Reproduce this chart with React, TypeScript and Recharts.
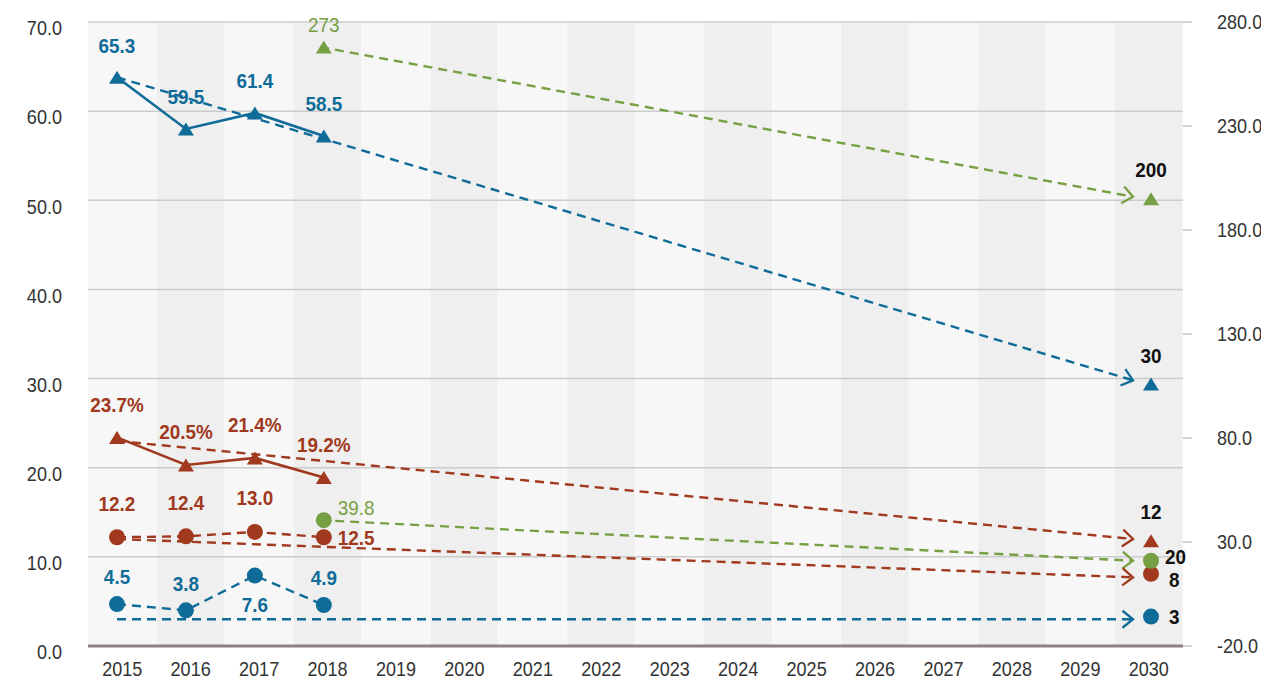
import React from 'react';
import { ComposedChart, Bar, Cell, Line, XAxis, YAxis, ReferenceLine } from 'recharts';

const years = [2015, 2016, 2017, 2018, 2019, 2020, 2021, 2022, 2023, 2024, 2025, 2026, 2027, 2028, 2029, 2030];
const histYears = [2015, 2016, 2017, 2018];
const greenYear = 2018;
const targetYear = 2030;
const leftTicks = [0, 10, 20, 30, 40, 50, 60, 70];
const rightTicks = [-20, 30, 80, 130, 180, 230, 280];

// left axis, 2015-2018
const blueTriangle = [63.8, 58.0, 59.8, 57.2];
const blueTriangleText = ['65.3', '59.5', '61.4', '58.5'];
const redTriangle = [23.4, 20.3, 21.1, 18.9];
const redTriangleText = ['23.7%', '20.5%', '21.4%', '19.2%'];
const redCircle = [12.2, 12.3, 12.8, 12.2];
const redCircleText = ['12.2', '12.4', '13.0', '12.5'];
const blueCircle = [4.7, 4.0, 7.9, 4.6];
const blueCircleText = ['4.5', '3.8', '7.6', '4.9'];

// right axis, 2018 only
const greenTriangle = [268];
const greenTriangleText = ['273'];
const greenCircle = [40.5];
const greenCircleText = ['39.8'];

// trend lines: [start, 2030]
const blueTriangleTrend = [63.8, 29.8];
const redTriangleTrend = [23.0, 12.0];
const redCircleTrend = [12.0, 7.7];
const blueCircleTrend = [3.0, 3.0];
const greenTriangleTrend = [268, 196];
const greenCircleTrend = [40.5, 21];

// 2030 targets
const targetKeys = ['bt', 'rt', 'rc', 'bc', 'gt', 'gc'];
const targetValues = [29.4, 11.8, 8.1, 3.3, 195, 21];
const targetText = ['30', '12', '8', '3', '200', '20'];

const FONT = "'Liberation Sans', Arial, sans-serif";
const BLUE = '#0f6b98';
const RED = '#a0391d';
const GREEN = '#77a044';
const INK = '#333333';

const pick = (arr: any[], from: number[], y: number) => {
  const i = from.indexOf(y);
  return i >= 0 ? arr[i] : null;
};
const ends = (pair: number[], start: number, y: number) => (y === start ? pair[0] : y === targetYear ? pair[1] : null);

const rows = years.map((year) => {
  const row: any = {
    year,
    band: 70,
    bt: pick(blueTriangle, histYears, year),
    btL: pick(blueTriangleText, histYears, year),
    rt: pick(redTriangle, histYears, year),
    rtL: pick(redTriangleText, histYears, year),
    rc: pick(redCircle, histYears, year),
    rcL: pick(redCircleText, histYears, year),
    bc: pick(blueCircle, histYears, year),
    bcL: pick(blueCircleText, histYears, year),
    gt: pick(greenTriangle, [greenYear], year),
    gtL: pick(greenTriangleText, [greenYear], year),
    gc: pick(greenCircle, [greenYear], year),
    gcL: pick(greenCircleText, [greenYear], year),
    btT: ends(blueTriangleTrend, 2015, year),
    rtT: ends(redTriangleTrend, 2015, year),
    rcT: ends(redCircleTrend, 2015, year),
    bcT: ends(blueCircleTrend, 2015, year),
    gtT: ends(greenTriangleTrend, greenYear, year),
    gcT: ends(greenCircleTrend, greenYear, year),
  };
  targetKeys.forEach((k, i) => {
    row[k + 'G'] = year === targetYear ? targetValues[i] : null;
    row[k + 'GL'] = year === targetYear ? targetText[i] : null;
  });
  return row;
});

// narrow text: Liberation Sans squeezed horizontally
const NText = ({ x, y, anchor = 'middle', size = 21, weight = 400, fill = INK, dy = '0.35em', squeeze = 0.86, children }: any) => (
  <text
    transform={`translate(${x},${y}) scale(${squeeze},1)`}
    x={0}
    y={0}
    dy={dy}
    textAnchor={anchor}
    fill={fill}
    fontFamily={FONT}
    fontSize={size}
    fontWeight={weight}
  >
    {children}
  </text>
);

type Spot = { dx: number; dy: number; anchor: 'middle' | 'start' };
const above = (gap: number): Spot => ({ dx: 0, dy: -gap, anchor: 'middle' });
const below = (gap: number): Spot => ({ dx: 0, dy: gap, anchor: 'middle' });
const right = (dx: number, dy: number): Spot => ({ dx, dy, anchor: 'start' });

const markerDot = (
  shape: 'tri' | 'circ',
  color: string,
  labelKey: string,
  textColor: string,
  bold: boolean,
  spot: (i: number) => Spot,
) => (props: any) => {
  const { cx, cy, index, payload, value } = props;
  if (cx == null || cy == null || value == null) return <g key={`m${index}`} />;
  const text = payload ? payload[labelKey] : null;
  const s = spot(histYears.indexOf(payload.year));
  return (
    <g key={`m${index}`}>
      {shape === 'tri' ? (
        <polygon points={`${cx},${cy - 6.5} ${cx - 8},${cy + 6.5} ${cx + 8},${cy + 6.5}`} fill={color} />
      ) : (
        <circle cx={cx} cy={cy} r={8} fill={color} />
      )}
      {text != null && (
        <NText x={cx + s.dx} y={cy + s.dy} anchor={s.anchor} fill={textColor} weight={bold ? 700 : 400} size={21} squeeze={0.9}>
          {text}
        </NText>
      )}
    </g>
  );
};

const arrowDot = (color: string) => (props: any) => {
  const { cx, cy, index, value, points } = props;
  if (cx == null || cy == null || value == null || index !== years.length - 1) return <g key={`a${index}`} />;
  const start = (points || []).find((p: any) => p && p.value != null && p.y != null);
  const ang = start ? Math.atan2(cy - start.y, cx - start.x) : 0;
  const L = 13.5;
  const s = 0.68;
  const p1 = [cx - L * Math.cos(ang - s), cy - L * Math.sin(ang - s)];
  const p2 = [cx - L * Math.cos(ang + s), cy - L * Math.sin(ang + s)];
  return (
    <polyline
      key={`a${index}`}
      points={`${p1[0]},${p1[1]} ${cx},${cy} ${p2[0]},${p2[1]}`}
      fill="none"
      stroke={color}
      strokeWidth={2.3}
    />
  );
};

const LeftTick = (props: any) => (
  <NText x={props.x} y={props.y + 6} anchor="end">
    {props.payload.value.toFixed(1)}
  </NText>
);

const RightTick = (props: any) => (
  <NText x={props.x} y={props.y} anchor="start">
    {props.payload.value.toFixed(1)}
  </NText>
);

const YearTick = (props: any) => (
  <NText x={props.x} y={props.y} anchor="middle" dy="0.71em">
    {props.payload.value}
  </NText>
);

const trend = (key: string, color: string, axis: string) => (
  <Line
    key={key}
    xAxisId="trend"
    yAxisId={axis}
    dataKey={key}
    stroke={color}
    strokeWidth={2.4}
    strokeDasharray="9 6"
    connectNulls
    dot={arrowDot(color)}
    activeDot={false}
    isAnimationActive={false}
  />
);

export default function App() {
  return (
    <div style={{ position: 'absolute', left: 0, top: 0, background: '#fff' }}>
      <ComposedChart width={1261} height={679} data={rows} margin={{ top: 22, right: 0, bottom: 0, left: 0 }} barCategoryGap={0}>
        <XAxis
          xAxisId="cat"
          dataKey="year"
          type="category"
          interval={0}
          tickLine={false}
          tickSize={0}
          tickMargin={15}
          height={33}
          axisLine={{ stroke: '#8c8282', strokeWidth: 3 }}
          tick={<YearTick />}
        />
        <XAxis xAxisId="pts" dataKey="year" type="number" domain={[2015, 2030]} hide padding={{ left: 29, right: 32 }} />
        <XAxis xAxisId="trend" dataKey="year" type="number" domain={[2015, 2030]} hide padding={{ left: 29, right: 50 }} />
        <YAxis
          yAxisId="left"
          domain={[0, 70]}
          ticks={leftTicks}
          width={88}
          axisLine={false}
          tickLine={false}
          tickSize={0}
          tickMargin={26}
          tick={<LeftTick />}
        />
        <YAxis
          yAxisId="right"
          orientation="right"
          domain={[-20, 280]}
          ticks={rightTicks}
          width={78}
          axisLine={false}
          tickLine={{ stroke: '#aaa' }}
          tickSize={9}
          tickMargin={25}
          tick={<RightTick />}
        />
        <Bar xAxisId="cat" yAxisId="left" dataKey="band" isAnimationActive={false}>
          {rows.map((r, i) => (
            <Cell key={r.year} fill={i % 2 === 0 ? '#f7f7f7' : '#efefef'} />
          ))}
        </Bar>
        {leftTicks.slice(1).map((t) => (
          <ReferenceLine key={t} xAxisId="cat" yAxisId="left" y={t} stroke="#cccccc" strokeWidth={1.5} />
        ))}

        {trend('gtT', GREEN, 'right')}
        {trend('gcT', GREEN, 'right')}
        {trend('btT', BLUE, 'left')}
        {trend('rtT', RED, 'left')}
        {trend('rcT', RED, 'left')}
        {trend('bcT', BLUE, 'left')}

        <Line xAxisId="pts" yAxisId="left" dataKey="bt" stroke={BLUE} strokeWidth={2.6}
          dot={markerDot('tri', BLUE, 'btL', BLUE, true, () => above(32))} activeDot={false} isAnimationActive={false} />
        <Line xAxisId="pts" yAxisId="left" dataKey="rt" stroke={RED} strokeWidth={2.6}
          dot={markerDot('tri', RED, 'rtL', RED, true, () => above(33))} activeDot={false} isAnimationActive={false} />
        <Line xAxisId="pts" yAxisId="left" dataKey="rc" stroke={RED} strokeWidth={2.4} strokeDasharray="9 6"
          dot={markerDot('circ', RED, 'rcL', RED, true, (i) => (i === 3 ? right(14, 0) : above(34)))} activeDot={false} isAnimationActive={false} />
        <Line xAxisId="pts" yAxisId="left" dataKey="bc" stroke={BLUE} strokeWidth={2.4} strokeDasharray="9 6"
          dot={markerDot('circ', BLUE, 'bcL', BLUE, true, (i) => (i === 2 ? below(29) : above(27)))} activeDot={false} isAnimationActive={false} />
        <Line xAxisId="pts" yAxisId="right" dataKey="gt" stroke="none"
          dot={markerDot('tri', GREEN, 'gtL', GREEN, false, () => above(22))} activeDot={false} isAnimationActive={false} />
        <Line xAxisId="pts" yAxisId="right" dataKey="gc" stroke="none"
          dot={markerDot('circ', GREEN, 'gcL', GREEN, false, () => right(14, -13))} activeDot={false} isAnimationActive={false} />

        <Line xAxisId="pts" yAxisId="left" dataKey="btG" stroke="none"
          dot={markerDot('tri', BLUE, 'btGL', '#111', true, () => above(28))} activeDot={false} isAnimationActive={false} />
        <Line xAxisId="pts" yAxisId="left" dataKey="rtG" stroke="none"
          dot={markerDot('tri', RED, 'rtGL', '#111', true, () => above(29))} activeDot={false} isAnimationActive={false} />
        <Line xAxisId="pts" yAxisId="left" dataKey="rcG" stroke="none"
          dot={markerDot('circ', RED, 'rcGL', '#111', true, () => right(18, 6))} activeDot={false} isAnimationActive={false} />
        <Line xAxisId="pts" yAxisId="left" dataKey="bcG" stroke="none"
          dot={markerDot('circ', BLUE, 'bcGL', '#111', true, () => right(18, 0))} activeDot={false} isAnimationActive={false} />
        <Line xAxisId="pts" yAxisId="right" dataKey="gtG" stroke="none"
          dot={markerDot('tri', GREEN, 'gtGL', '#111', true, () => above(29))} activeDot={false} isAnimationActive={false} />
        <Line xAxisId="pts" yAxisId="right" dataKey="gcG" stroke="none"
          dot={markerDot('circ', GREEN, 'gcGL', '#111', true, () => right(14, -4))} activeDot={false} isAnimationActive={false} />
      </ComposedChart>
    </div>
  );
}
